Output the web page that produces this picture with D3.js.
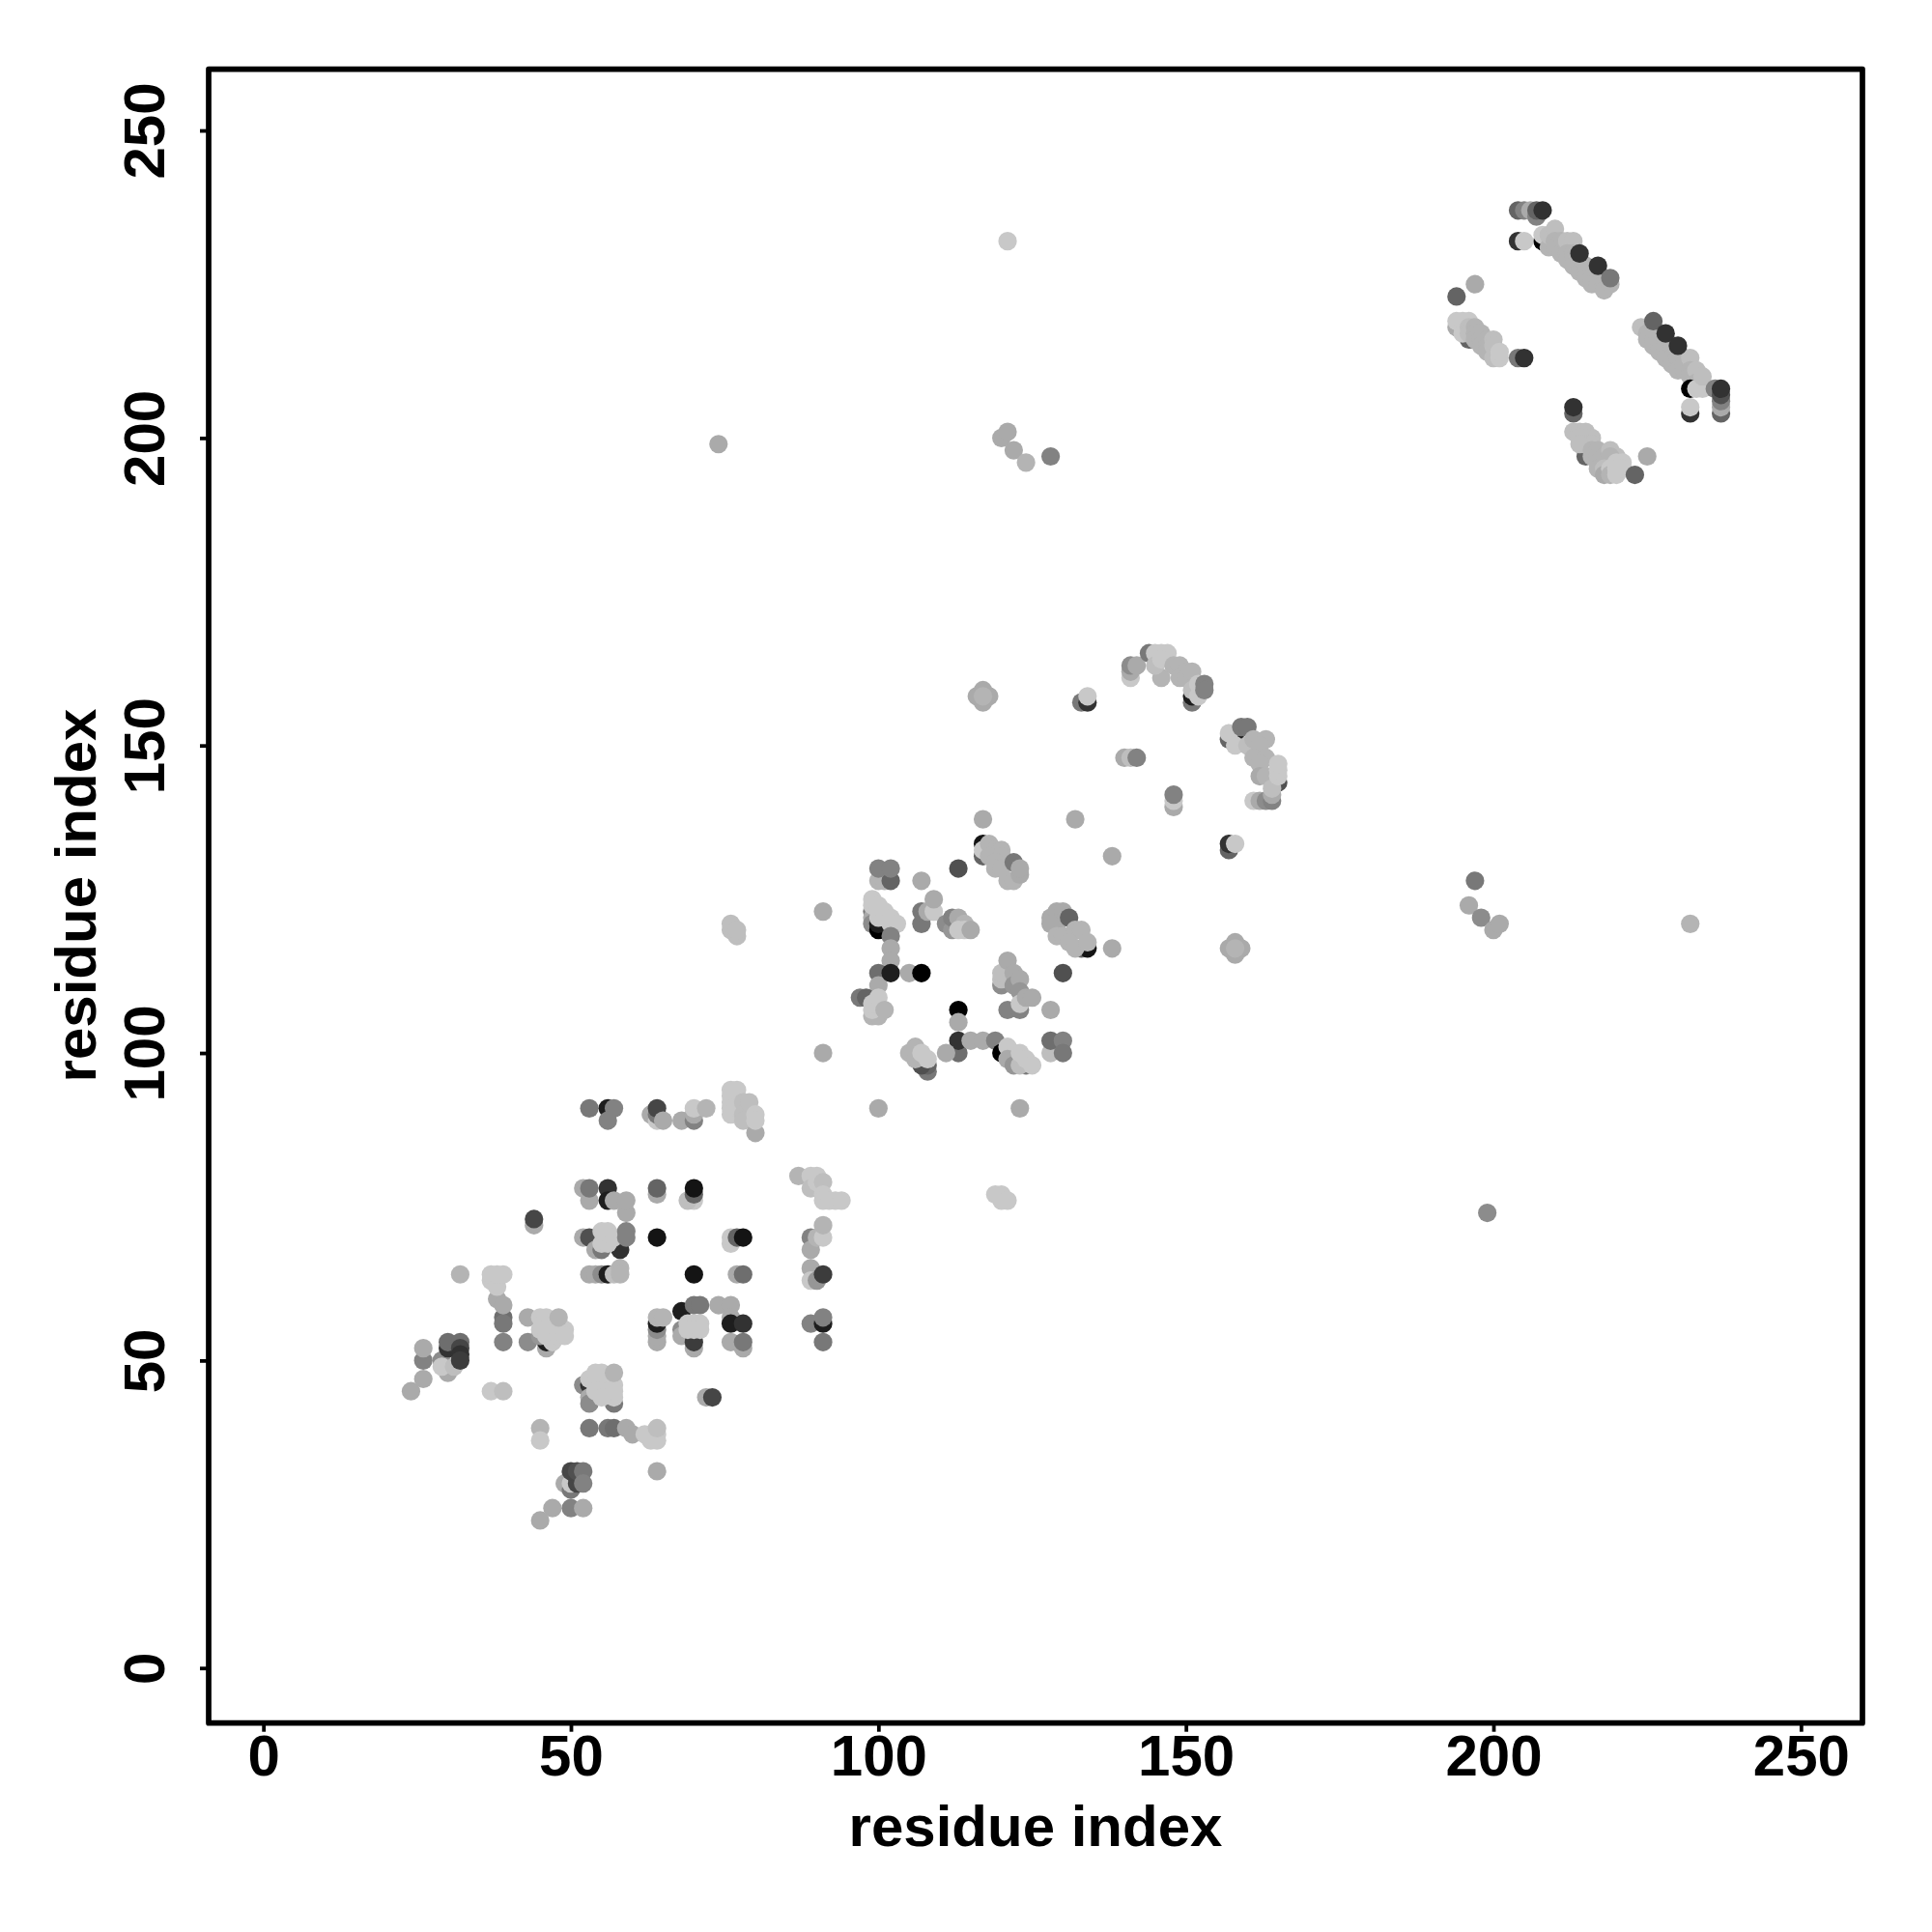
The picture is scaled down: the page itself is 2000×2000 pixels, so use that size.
<!DOCTYPE html>
<html><head><meta charset="utf-8">
<script src="https://cdn.jsdelivr.net/npm/d3@7"></script>
<style>html,body{margin:0;background:#fff}svg{display:block}text{font-family:"Liberation Sans",Arial,sans-serif;font-weight:700;fill:#000}</style>
</head><body><div id="c"></div>
<script>
// each contact: [residue i, residue j, shade level 0 (black) .. 20 (lightest)]
const tickValues=[0,50,100,150,200,250];
const axisTitle="residue index";
const clusterA=[[24,45,17],[26,47,17],[26,50,13],[26,52,17],[29,50,14],[30,48,17],[30,52,5],[30,53,11],[32,53,11],[32,52,7],[32,51,5],[29,49,20],[31,49,19],[32,50,6],
[32,64,18],[37,45,20],[39,45,19],[39,57,11],[39,56,12],[39,53,13],[38,60,17],[39,59,17],[37,63,20],[38,62,20],[37,64,20],[38,64,20],[39,64,20],
[44,72,17],[44,73,7],[43,57,17],[43,53,14],[46,52,17],[46,53,3],[45,54,15],[45,57,20],[46,57,20],[45,55,20],[46,55,20],[46,54,20],[47,56,20],[47,54,20],[47,53,20],[48,56,20],[48,55,20],[48,54,20],[49,55,20],[49,54,20],[48,57,18]];
const clusterB=[[52,78,17],[53,76,17],[53,78,12],[56,78,5],[56,76,3],[57,76,17],[59,74,17],[59,76,17],[64,77,17],[64,78,10],[70,76,20],[69,76,19],[70,77,10],[70,78,2],
[52,70,17],[53,70,8],[54,68,17],[55,68,12],[58,68,5],[55,69,20],[56,69,20],[55,71,20],[56,71,20],[57,70,20],[59,71,13],[59,70,13],[64,70,2],[76,69,20],[76,70,20],[77,70,10],[78,70,2],[89,70,13],[89,68,17],[90,70,18],[91,70,20],[91,72,18],
[53,64,17],[54,64,17],[55,64,14],[56,64,3],[57,64,19],[58,65,18],[58,64,18],[70,64,2],[77,64,17],[78,64,11],[89,65,17],[89,63,20],[90,63,15],[91,64,6]];
const clusterC=[[64,53,17],[64,54,17],[64,55,14],[64,56,3],[64,57,18],[65,57,18],[68,58,3],[70,59,12],[71,59,12],[68,55,14],[68,54,17],[70,52,17],[70,53,6],[69,56,20],[70,56,20],[71,56,20],[69,55,20],[70,55,20],[71,55,20],
[74,59,17],[76,59,17],[76,57,17],[76,56,3],[78,56,5],[76,53,17],[78,52,17],[78,53,12],[89,56,13],[91,56,3],[91,57,13],[91,53,12]];
const clusterD=[[52,46,14],[53,46,5],[53,44,17],[53,43,14],[57,43,12],[57,44,20],[53,47,20],[54,47,20],[55,47,20],[54,46,20],[56,46,20],[57,46,20],[54,45,20],[55,45,20],[56,45,20],[57,45,20],[55,44,20],[55,48,20],[54,48,20],[57,48,18],
[45,39,18],[45,37,20],[53,39,12],[56,39,12],[57,39,11],[59,39,17],[60,38,17],[62,38,20],[63,38,20],[64,38,20],[63,37,20],[64,37,20],[64,39,19],[64,32,17],[72,44,17],[73,44,7],
[49,30,17],[50,29,12],[50,31,17],[50,30,20],[51,31,5],[51,30,7],[50,32,7],[51,32,8],[52,32,12],[52,30,13],[47,26,17],[50,26,13],[52,26,17],[45,24,17]];
const clusterE=[[53,91,12],[56,91,3],[57,91,13],[56,89,13],[63,90,17],[64,89,20],[64,90,12],[64,91,7],[65,89,17],[68,89,17],[70,89,13],[70,90,17],[70,91,20],[72,91,18],
[76,94,20],[77,94,20],[76,93,20],[76,92,20],[76,91,20],[76,90,20],[77,91,20],[78,92,19],[78,90,19],[79,92,19],[78,89,19],[80,87,17],[80,90,20],[80,89,20],
[87,80,18],[89,80,20],[90,80,20],[89,78,19],[90,79,20],[91,79,19],[91,77,20],[91,76,20],[92,76,20],[93,76,20],[94,76,20]];
const clusterF=[[91,123,17],[91,100,17],[100,91,17],[123,91,17],[116,158,17],[118,158,17],[117,159,17],[117,157,17],[117,158,18],[133,157,12],[134,157,5],[134,158,20],[140,148,17],[141,148,19],[142,148,13],[148,140,17],[148,141,20],[148,142,13],[117,138,17],[132,138,17],[138,132,17],[113,130,8],
[117,132,10],[117,134,2],[117,133,20],[118,134,18],[119,133,18],[120,133,18],[118,132,18],[120,132,18],[119,131,18],[119,130,18],[120,130,18],[121,128,18],[122,128,18],[122,131,12],[123,129,17],[123,130,17],
[100,128,18],[101,128,18],[102,128,10],[100,130,13],[102,130,13],[107,128,17],[99,123,12],[99,122,17],[99,121,14],[100,120,0],[100,121,3],[99,124,20],[99,125,20],[100,124,20],[100,122,20],[101,123,20],[102,122,20],[102,121,20],[103,121,20],
[102,119,13],[102,117,17],[102,115,17],[100,113,11],[100,111,17],[102,113,3],[105,113,17],[107,113,0]];
const clusterG=[[107,121,12],[107,123,12],[108,123,17],[109,123,20],[109,125,17],[111,121,14],[112,120,15],[112,122,13],[113,122,17],[114,121,18],[113,120,20],[114,120,20],[115,120,17],
[97,109,12],[98,109,10],[99,106,18],[100,106,18],[99,107,20],[99,108,20],[100,109,20],[101,107,18],[113,107,0],[113,105,17],[113,100,11],[113,102,5],[111,100,17],[115,102,17],[117,102,17],[119,102,13],
[108,97,12],[108,98,10],[107,98,8],[105,100,18],[106,101,18],[106,99,18],[107,100,20],[108,99,20],[120,100,0],[121,101,20],[122,100,20],[121,99,17],[122,98,15],[124,98,12],[123,98,19],[123,100,20],[124,99,20],[125,98,20],
[120,111,14],[120,112,19],[120,113,19],[121,115,17],[122,113,17],[122,111,15],[123,112,17],[123,110,15],[121,107,13],[123,107,13],[123,108,20],[124,109,17],[125,109,17],[128,107,17],[130,113,8],[128,100,19],[128,102,11],[130,102,13],[130,100,12]];
const clusterH=[[128,122,17],[129,123,17],[130,123,17],[129,121,17],[128,121,17],[131,122,10],[129,119,18],[130,119,18],[132,120,18],[133,120,18],[131,118,18],[133,117,10],[134,117,2],[132,117,18],[134,118,18],[138,117,17],
[157,133,10],[157,134,5],[158,134,20],[157,117,17],[158,118,17],[159,117,17],[158,116,17],[158,117,18],[76,120,19],[76,121,19],[77,119,19],[77,120,19],[119,77,20],[120,77,20],[120,76,20],[121,76,20],[199,74,14],[197,128,12],[196,124,17],[198,122,14],[200,120,17],[201,121,17],[232,121,18]];
const arcA=[[141,161,20],[141,162,17],[141,163,14],[142,163,17],[144,165,12],[145,165,20],[146,165,20],[147,165,20],[146,161,18],[145,163,19],[146,164,20],[148,163,18],[149,163,18],[149,161,18],[150,162,18],[150,161,18],[151,162,18],[151,157,12],[151,158,3],[151,159,19],[152,158,20],[152,160,20],[153,160,13],[153,159,13]];
const arcB=[[157,151,10],[158,151,3],[157,152,20],[159,153,12],[160,153,12],[158,150,20],[160,150,19],[161,151,18],[163,151,18],[162,150,18],[161,148,18],[163,148,18],[162,147,18],[162,145,17],[165,144,8],[163,145,18],[161,141,20],[162,141,17],[163,141,14],[164,141,13],[164,142,17],[164,143,19],[165,145,20],[165,146,20],[165,147,20]];
const betaTop=[[204,237,10],[205,237,13],[206,237,17],[207,236,13],[207,237,10],[208,232,0],[208,233,20],[208,237,5],[204,232,5],[205,232,20],[209,231,18],[209,233,19],[210,234,19],[210,232,18],[210,231,18],[211,232,18],[211,231,18],[211,230,18],[212,231,18],[212,232,19],[213,232,19],[212,230,18],[212,229,18],[213,230,18],[213,229,18],[213,228,18],[214,229,18],[214,228,18],[214,227,18],[215,228,18],[215,227,18],[215,226,18],[216,227,18],[216,226,18],[216,225,18],[217,226,18],[217,225,18],[218,225,18],[218,224,18],[219,225,18],[214,230,5],[217,228,5],[219,226,12]];
const betaLeft=[[194,218,17],[196,216,10],[194,219,20],[195,219,20],[196,219,20],[195,218,20],[195,217,20],[196,218,19],[196,217,19],[197,218,18],[197,217,18],[197,216,18],[198,217,18],[198,216,18],[198,215,18],[199,216,18],[199,215,18],[199,214,18],[200,216,19],[200,214,18],[200,213,19],[200,215,19],[201,213,20],[201,214,20],[194,223,10],[197,225,17],[204,213,12],[205,213,5]];
const betaRight=[[224,218,19],[225,218,19],[225,217,18],[225,216,18],[226,218,18],[226,216,18],[226,215,18],[227,217,18],[227,215,18],[227,214,18],[228,216,18],[228,214,18],[228,213,18],[229,215,18],[229,213,18],[229,212,18],[230,214,18],[230,213,18],[230,211,18],[231,213,18],[231,212,18],[231,211,18],[232,213,19],[232,211,18],[232,210,18],[233,211,19],[233,209,18],[232,208,0],[233,208,20],[234,208,20],[234,210,19],[226,219,10],[228,217,5],[230,215,5],[237,204,10],[237,205,17],[237,206,13],[236,208,13],[237,207,8],[237,208,5],[232,204,5],[232,205,20]];
const betaLow=[[213,204,10],[213,205,5],[215,197,10],[213,201,19],[214,201,19],[215,201,19],[214,200,19],[216,200,19],[215,200,19],[215,199,19],[216,199,19],[214,199,19],[216,198,18],[217,198,18],[216,197,18],[217,197,18],[218,197,18],[219,198,19],[220,197,19],[217,196,18],[218,196,18],[219,196,18],[219,197,18],[217,195,18],[218,195,19],[218,194,17],[219,195,20],[219,194,18],[220,196,20],[220,195,20],[220,194,20],[221,196,20],[221,195,20],[223,194,10],[225,197,17]];
const scattered=[[121,232,20],[74,199,17],[120,200,17],[121,201,17],[122,198,17],[124,196,18],[128,197,13]];
const contacts=[clusterA,clusterB,clusterC,clusterD,clusterE,clusterF,clusterG,clusterH,arcA,arcB,betaTop,betaLeft,betaRight,betaLow,scattered].flat();

const svg=d3.select("#c").append("svg").attr("width",2000).attr("height",2000);
const x=d3.scaleLinear().domain([-8.9,260]).range([216,1928]);
const y=d3.scaleLinear().domain([-8.95,259.95]).range([1783.7,71.7]);
const shade=d3.scaleLinear().domain([0,20]).range(["#000000","#c8c8c8"]);

svg.append("g").selectAll("circle").data(contacts).join("circle")
 .attr("cx",d=>x(d[0])).attr("cy",d=>y(d[1])).attr("r",9.6).attr("fill",d=>shade(d[2]));

const gx=svg.append("g").attr("transform","translate(0,1783.7)").call(d3.axisBottom(x).tickValues(tickValues).tickSize(9).tickPadding(0).tickFormat(d3.format("d")));
const gy=svg.append("g").attr("transform","translate(216,0)").call(d3.axisLeft(y).tickValues(tickValues).tickSize(9).tickPadding(0).tickFormat(d3.format("d")));
[gx,gy].forEach(g=>{g.select(".domain").remove();g.selectAll("line").attr("stroke","#000").attr("stroke-width",3.8);g.selectAll("text").attr("font-size",60).attr("fill","#000").attr("font-family",'"Liberation Sans"').attr("font-weight",700);});
gx.selectAll("text").attr("y",54.5).attr("dy",0).attr("text-anchor","middle");
gy.selectAll("text").attr("x",null).attr("dy",0).attr("text-anchor","middle").attr("transform","translate(-46.5,0) rotate(-90)");

svg.append("rect").attr("x",x.range()[0]).attr("y",y.range()[1]).attr("width",x.range()[1]-x.range()[0]).attr("height",y.range()[0]-y.range()[1]).attr("fill","none").attr("stroke","#000").attr("stroke-width",5.7).attr("stroke-linejoin","round");
svg.append("text").attr("x",1072).attr("y",1911).attr("text-anchor","middle").attr("font-size",60).text(axisTitle);
svg.append("text").attr("transform","translate(99,927) rotate(-90)").attr("text-anchor","middle").attr("font-size",60).text(axisTitle);
</script></body></html>
